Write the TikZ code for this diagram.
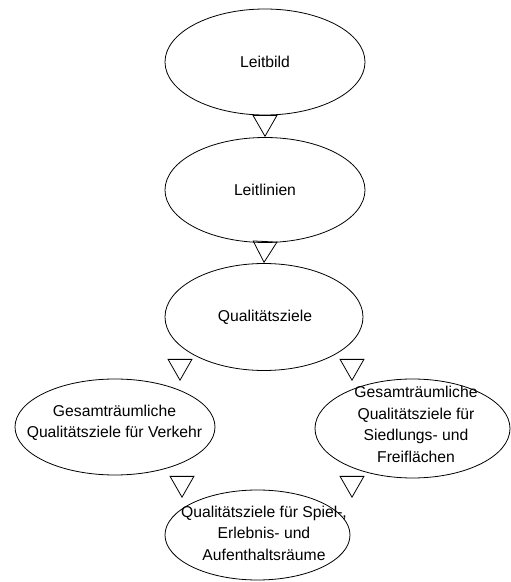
\documentclass[tikz,border=0pt]{standalone}
\usepackage{fontspec}
\setmainfont{Liberation Sans}
\usetikzlibrary{shapes.geometric,arrows.meta}
\begin{document}
\begin{tikzpicture}[x=1pt,y=1pt]
	\tikzstyle{every node}=[font=\fontsize{15.7pt}{21.5pt}\selectfont]
	\tikzstyle{oval}=[draw, ellipse, line width=0.8pt, inner sep=0pt]
	\tikzstyle{txt}=[align=center, inner sep=0pt]
	\tikzstyle{flow}=[line width=0.8pt, -{Triangle[open, length=22pt, width=25pt]}]
	
	\useasboundingbox (0,0) rectangle (511,582);
	
	\node[oval, minimum width=200pt, minimum height=106pt] (leitbild) at (265,520) {};
	\node[oval, minimum width=200pt, minimum height=105pt] (leitlinien) at (265,392) {};
	\node[oval, minimum width=198pt, minimum height=107pt] (quali) at (264,265) {};
	\node[oval, minimum width=200pt, minimum height=96pt] (verkehr) at (115,155) {};
	\node[oval, minimum width=195pt, minimum height=99pt] (siedlung) at (412.5,153.5) {};
	\node[oval, minimum width=185pt, minimum height=90pt] (spiel) at (257.5,47) {};
	
	\node[txt] (leitbild-t) at (265,520) {Leitbild};
	\node[txt] (leitlinien-t) at (265,392) {Leitlinien};
	\node[txt] (quali-t) at (265,265) {Qualitätsziele};
	\node[txt] (verkehr-t) at (114.5,159) {Gesamträumliche\\Qualitätsziele für Verkehr};
	\node[txt] (siedlung-t) at (416,157.5) {Gesamträumliche\\Qualitätsziele für\\Siedlungs- und\\Freiflächen};
	\node[txt] (spiel-t) at (264,49) {Qualitätsziele für Spiel-,\\Erlebnis- und\\Aufenthaltsräume};
	
	\coordinate (qv) at (180,223);
	\coordinate (qs) at (352,223);
	\coordinate (vs) at (182,106);
	\coordinate (ss) at (352,106);
	
	\draw[flow] (leitbild.south) -- (leitlinien.north);
	\draw[flow] (leitlinien.south) -- (quali.north);
	\draw[flow] (qv) -- ++(0,-22);
	\draw[flow] (qs) -- ++(0,-22);
	\draw[flow] (vs) -- ++(0,-22);
	\draw[flow] (ss) -- ++(0,-22);
	
\end{tikzpicture}
\end{document}
